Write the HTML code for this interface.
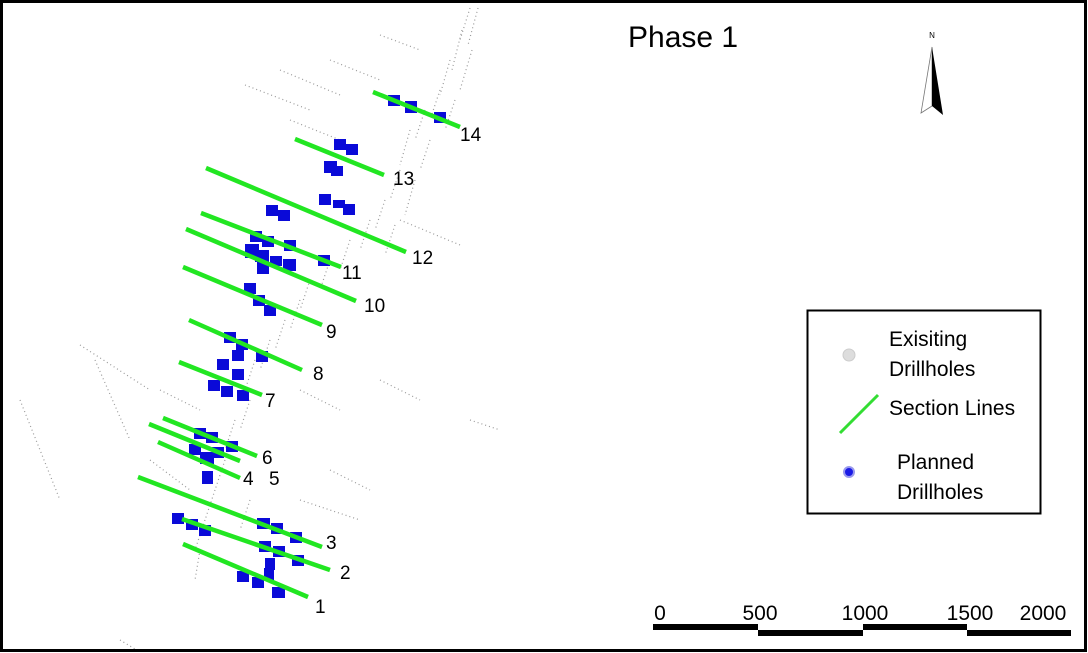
<!DOCTYPE html>
<html><head><meta charset="utf-8"><style>
html,body{margin:0;padding:0;background:#fff}
svg{display:block}
text{font-family:"Liberation Sans","DejaVu Sans",sans-serif;fill:#000}
</style></head><body>
<svg width="1088" height="653" viewBox="0 0 1088 653" xmlns="http://www.w3.org/2000/svg">
<rect x="0" y="0" width="1088" height="653" fill="#fff"/>
<!-- existing drillholes (gray dotted traces) -->
<g stroke="#999" stroke-width="1.2" stroke-dasharray="1 3" fill="none">
<path d="M470 8 L460 40 M478 8 L468 45 M462 30 L452 70 M472 50 L460 90 M450 60 L440 95 M440 90 L430 120 M455 100 L445 130 M425 110 L415 140 M430 140 L420 170 M410 130 L400 165 M400 170 L390 200 M415 180 L405 215 M385 200 L375 230 M370 220 L360 250 M395 225 L385 255 M350 240 L340 270 M330 260 L320 290 M310 280 L300 310 M300 300 L290 330 M285 320 L275 350 M270 340 L260 370 M255 360 L245 390 M250 400 L240 430 M235 420 L225 450 M225 460 L215 490 M215 490 L205 520 M205 520 L195 550 M200 550 L195 580 M250 500 L240 530"/>
<path d="M280 70 L340 95 M245 85 L310 110 M290 120 L340 140 M330 60 L380 80 M380 35 L420 50 M80 345 L150 390 M95 360 L130 440 M20 400 L60 500 M470 420 L500 430 M380 380 L420 400 M400 220 L460 245 M300 390 L340 410 M160 390 L200 410 M150 460 L190 490 M330 470 L370 490 M300 500 L360 520 M120 640 L140 652"/>
</g>
<!-- planned drillholes -->
<g fill="#0a0ad8">
<rect x="388" y="95" width="12" height="11"/><rect x="405" y="101" width="12" height="12"/><rect x="434" y="112" width="12" height="11"/>
<rect x="334" y="139" width="12" height="11"/><rect x="346" y="144" width="12" height="11"/><rect x="324" y="161" width="13" height="12"/><rect x="331" y="166" width="12" height="10"/>
<rect x="319" y="194" width="12" height="11"/><rect x="343" y="204" width="12" height="11"/><rect x="333" y="200" width="12" height="8"/>
<rect x="266" y="205" width="12" height="11"/><rect x="278" y="210" width="12" height="11"/>
<rect x="250" y="231" width="12" height="11"/><rect x="262" y="236" width="12" height="11"/><rect x="284" y="240" width="12" height="11"/>
<rect x="245" y="244" width="14" height="14"/><rect x="255" y="250" width="14" height="12"/><rect x="257" y="262" width="12" height="12"/>
<rect x="283" y="259" width="13" height="12"/><rect x="318" y="255" width="12" height="11"/><rect x="270" y="256" width="12" height="10"/>
<rect x="244" y="283" width="12" height="11"/><rect x="253" y="295" width="12" height="11"/><rect x="264" y="305" width="12" height="11"/>
<rect x="224" y="332" width="12" height="11"/><rect x="236" y="339" width="12" height="11"/><rect x="232" y="350" width="12" height="11"/>
<rect x="217" y="359" width="12" height="11"/><rect x="256" y="351" width="12" height="11"/><rect x="232" y="369" width="12" height="11"/>
<rect x="208" y="380" width="12" height="11"/><rect x="221" y="386" width="12" height="11"/><rect x="237" y="390" width="12" height="11"/>
<rect x="194" y="428" width="12" height="11"/><rect x="206" y="432" width="12" height="11"/><rect x="226" y="441" width="12" height="11"/>
<rect x="189" y="444" width="12" height="11"/><rect x="200" y="452" width="14" height="12"/><rect x="212" y="447" width="12" height="11"/>
<rect x="202" y="471" width="11" height="13"/>
<rect x="172" y="513" width="12" height="11"/><rect x="186" y="519" width="12" height="11"/><rect x="199" y="525" width="12" height="11"/>
<rect x="257" y="518" width="13" height="11"/><rect x="271" y="523" width="12" height="11"/><rect x="290" y="532" width="12" height="11"/>
<rect x="259" y="541" width="12" height="11"/><rect x="273" y="546" width="12" height="11"/><rect x="292" y="555" width="12" height="11"/>
<rect x="265" y="558" width="10" height="12"/><rect x="264" y="568" width="10" height="12"/>
<rect x="237" y="571" width="12" height="11"/><rect x="252" y="577" width="12" height="11"/><rect x="272" y="587" width="13" height="11"/>
</g>
<!-- section lines -->
<g stroke="#22e622" stroke-width="4.5" stroke-linecap="butt">
<line x1="373" y1="92" x2="460" y2="127"/>
<line x1="295" y1="139" x2="384" y2="175"/>
<line x1="206" y1="168" x2="406" y2="252"/>
<line x1="201" y1="213" x2="341" y2="267"/>
<line x1="186" y1="229" x2="356" y2="301"/>
<line x1="183" y1="267" x2="322" y2="325"/>
<line x1="189" y1="320" x2="302" y2="370"/>
<line x1="179" y1="362" x2="262" y2="395"/>
<line x1="163" y1="418" x2="257" y2="456"/>
<line x1="149" y1="424" x2="240" y2="461"/>
<line x1="158" y1="442" x2="240" y2="478"/>
<line x1="138" y1="477" x2="322" y2="547"/>
<line x1="182" y1="519" x2="330" y2="570"/>
<line x1="183" y1="544" x2="308" y2="597"/>
</g>
<!-- labels -->
<g font-size="19">
<text x="460" y="141">14</text>
<text x="393" y="185">13</text>
<text x="412" y="264">12</text>
<text x="342" y="279">11</text>
<text x="364" y="312">10</text>
<text x="326" y="338">9</text>
<text x="313" y="380">8</text>
<text x="265" y="407">7</text>
<text x="262" y="464">6</text>
<text x="243" y="485">4</text>
<text x="269" y="485">5</text>
<text x="326" y="549">3</text>
<text x="340" y="579">2</text>
<text x="315" y="613">1</text>
</g>
<text x="628" y="47" font-size="30">Phase 1</text>
<!-- north arrow -->
<text x="932" y="38" font-size="8" text-anchor="middle">N</text>
<polygon points="932,47 921,113 932,106" fill="#fff" stroke="#777" stroke-width="0.8"/>
<polygon points="932,47 943,115 932,106" fill="#000"/>
<!-- legend -->
<rect x="807.5" y="310.5" width="233" height="203" fill="#fff" stroke="#000" stroke-width="2"/>
<circle cx="849" cy="355" r="6" fill="#ddd" stroke="#ccc"/>
<text x="889" y="346" font-size="21">Exisiting</text>
<text x="889" y="376" font-size="21">Drillholes</text>
<line x1="840" y1="433" x2="878" y2="395" stroke="#33dd33" stroke-width="3"/>
<text x="889" y="415" font-size="21">Section Lines</text>
<circle cx="849" cy="472" r="5" fill="#1a1ae6" stroke="#9999ee" stroke-width="2"/>
<text x="897" y="469" font-size="21">Planned</text>
<text x="897" y="499" font-size="21">Drillholes</text>
<!-- scale bar -->
<g font-size="21" text-anchor="middle">
<text x="660" y="620">0</text>
<text x="760" y="620">500</text>
<text x="865" y="620">1000</text>
<text x="970" y="620">1500</text>
<text x="1043" y="620">2000</text>
</g>
<rect x="653" y="624" width="105" height="6" fill="#000"/>
<rect x="758" y="630" width="105" height="6" fill="#000"/>
<rect x="863" y="624" width="104" height="6" fill="#000"/>
<rect x="967" y="630" width="104" height="6" fill="#000"/>
<!-- frame -->
<rect x="1.5" y="1.5" width="1084" height="649" fill="none" stroke="#000" stroke-width="3"/>
</svg>
</body></html>
